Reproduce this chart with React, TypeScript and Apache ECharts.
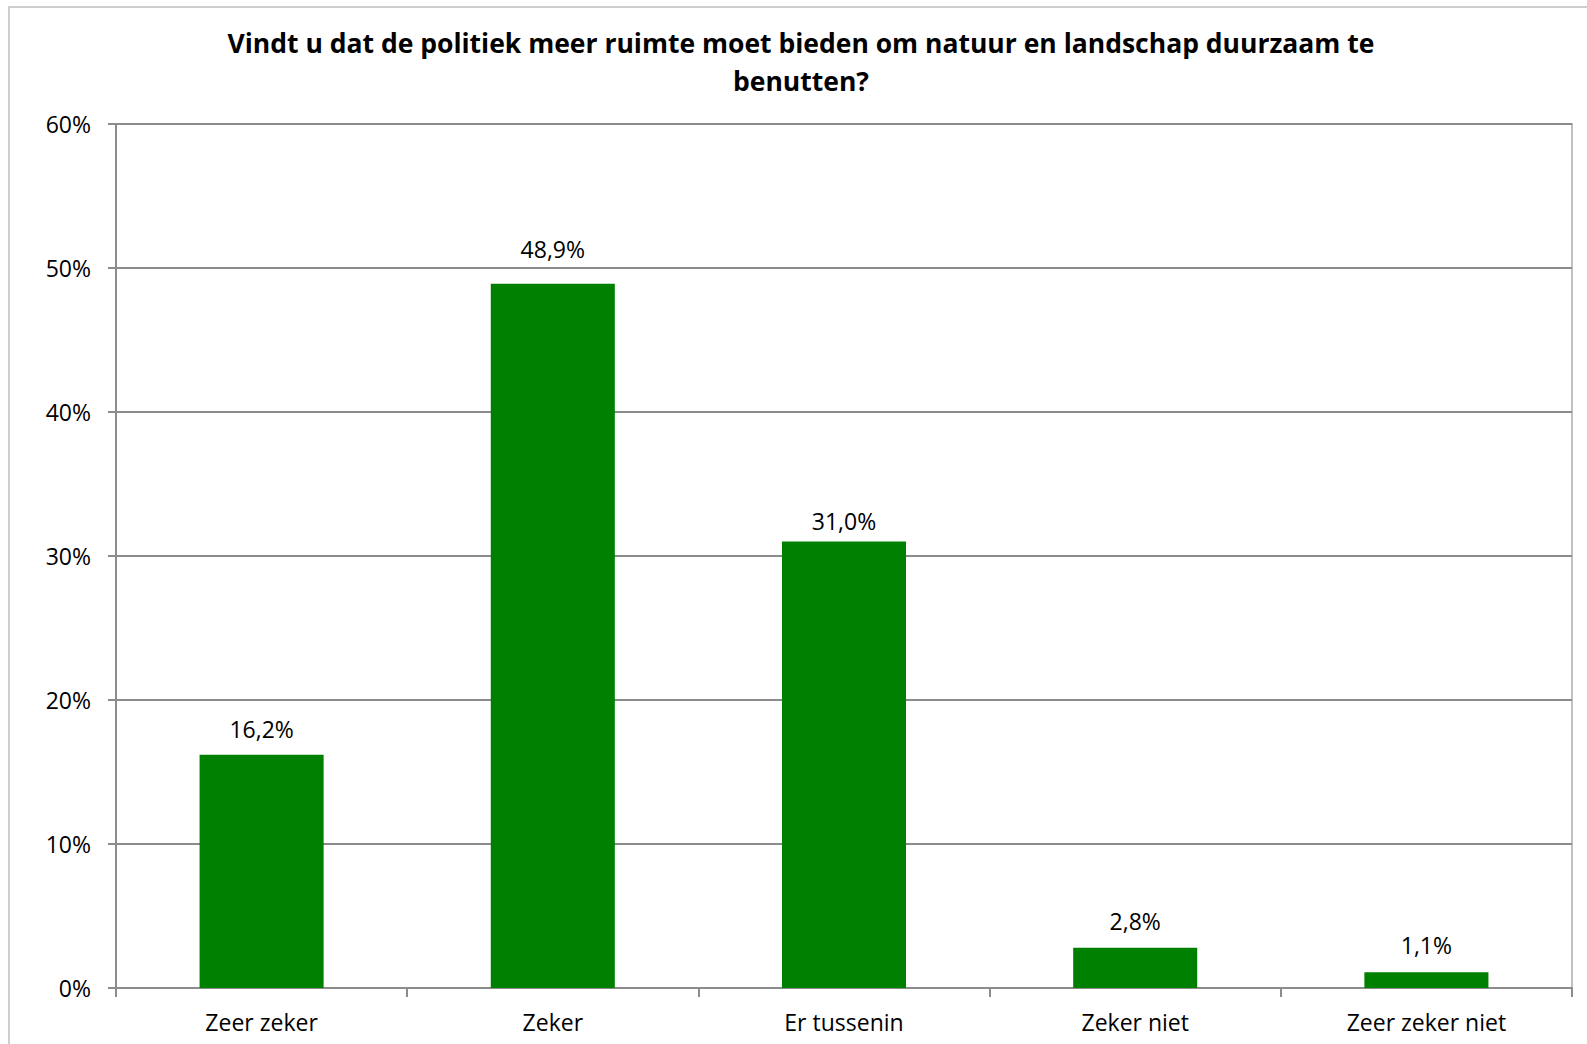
import React, { useEffect, useRef } from "react";
import * as echarts from "echarts";

const titleLines = [
  "Vindt u dat de politiek meer ruimte moet bieden om natuur en landschap duurzaam te",
  "benutten?",
];
const categories = ["Zeer zeker", "Zeker", "Er tussenin", "Zeker niet", "Zeer zeker niet"];
const values = [16.2, 48.9, 31.0, 2.8, 1.1];
const yTicks = { min: 0, max: 60, interval: 10 };

// label gap above each bar (style only)
const labelGaps = [14, 23, 9, 15, 16];

const FONT = "'Open Sans', 'Noto Sans', sans-serif";

export default function App() {
  const ref = useRef<HTMLDivElement>(null);
  useEffect(() => {
    if (!ref.current) return;
    const chart = echarts.init(ref.current, null, { renderer: "svg" });
    chart.setOption({
      animation: false,
      backgroundColor: "#ffffff",
      title: {
        text: titleLines.join("\n"),
        left: 796,
        top: 19,
        textAlign: "center",
        textStyle: {
          fontFamily: FONT,
          fontWeight: "bold",
          fontSize: 26.5,
          lineHeight: 38,
          color: "#000000",
        },
      },
      graphic: [
        {
          type: "rect",
          shape: { x: 9, y: 7, width: 1700, height: 1200 },
          style: { fill: "none", stroke: "#bfbfbf", lineWidth: 1.5 },
          silent: true,
          z: -1,
        },
      ],
      grid: {
        left: 116,
        right: 15,
        top: 124,
        bottom: 56,
        show: true,
        borderColor: "#c0c0c0",
        borderWidth: 2,
      },
      xAxis: {
        type: "category",
        data: categories,
        boundaryGap: true,
        axisLine: { show: true, lineStyle: { color: "#8c8c8c", width: 2 } },
        axisTick: { show: true, length: 9, alignWithLabel: false, lineStyle: { color: "#8c8c8c", width: 2 } },
        axisLabel: {
          fontFamily: FONT,
          fontSize: 23,
          color: "#000000",
          margin: 22,
        },
      },
      yAxis: {
        type: "value",
        min: yTicks.min,
        max: yTicks.max,
        interval: yTicks.interval,
        axisLine: { show: true, lineStyle: { color: "#8c8c8c", width: 2 } },
        axisTick: { show: true, length: 8, lineStyle: { color: "#8c8c8c", width: 2 } },
        splitLine: { show: true, lineStyle: { color: "#8c8c8c", width: 2 } },
        axisLabel: {
          fontFamily: FONT,
          fontSize: 23,
          color: "#000000",
          margin: 25,
          formatter: "{value}%",
        },
      },
      series: [
        {
          type: "bar",
          data: values.map((v, i) => ({ value: v, label: { distance: labelGaps[i] } })),
          barWidth: "42.6%",
          itemStyle: { color: "#008000" },
          label: {
            show: true,
            position: "top",
            fontFamily: FONT,
            fontSize: 23,
            color: "#000000",
            formatter: (p: any) => p.value.toFixed(1).replace(".", ",") + "%",
          },
        },
      ],
    });
    return () => chart.dispose();
  }, []);
  return (
    <div
      ref={ref}
      style={{ position: "fixed", left: 0, top: 0, width: 1587, height: 1044 }}
    />
  );
}
